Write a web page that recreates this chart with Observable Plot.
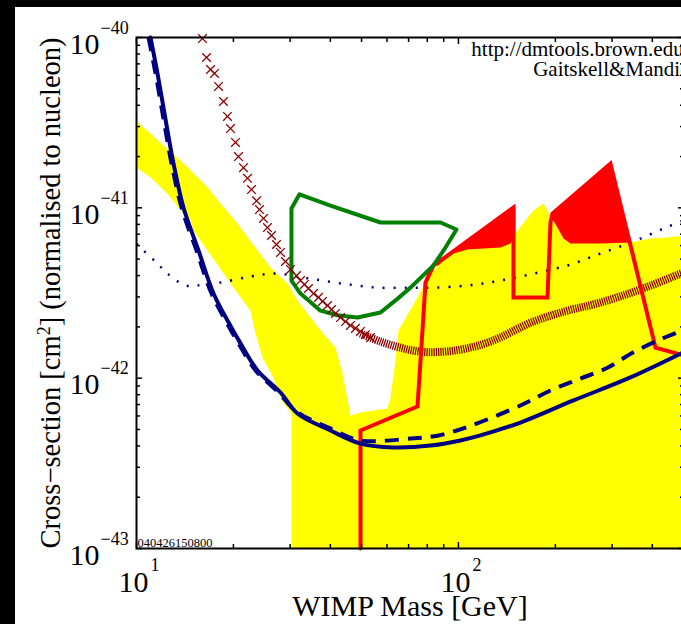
<!DOCTYPE html>
<html><head><meta charset="utf-8">
<script src="https://cdn.jsdelivr.net/npm/d3@7"></script>
<script src="https://cdn.jsdelivr.net/npm/@observablehq/plot@0.6"></script>
<style>
html,body{margin:0;padding:0;background:#000;width:681px;height:624px;overflow:hidden;}
#chart{position:absolute;left:15px;top:7px;width:685px;height:617px;}
#chart svg{background:#fff;display:block;max-width:none !important;width:685px;height:617px;}
</style></head><body><div id="chart"></div>
<script>
// ---- tick values / labels ----
const xMajor = [10, 100];
const xMinor = [20, 30, 40, 50, 60, 70, 80, 90, 200, 300, 400];
const xLabelExp = ["1", "2"];
const yMajor = [1e-43, 1e-42, 1e-41, 1e-40];
const yMinor = [2e-43, 3e-43, 4e-43, 5e-43, 6e-43, 7e-43, 8e-43, 9e-43,
                2e-42, 3e-42, 4e-42, 5e-42, 6e-42, 7e-42, 8e-42, 9e-42,
                2e-41, 3e-41, 4e-41, 5e-41, 6e-41, 7e-41, 8e-41, 9e-41];
const yLabelExp = ["\u221243", "\u221242", "\u221241", "\u221240"];
const xTitle = "WIMP Mass [GeV]";
const yTitle = "Cross\u2212section [cm2] (normalised to nucleon)";
const stamp = "040426150800";
const credit1 = "http://dmtools.brown.edu/";
const credit2 = "Gaitskell&Mandic";

// ---- yellow allowed region (closed outline) ----
const yellowMass = [10.0, 11.05, 12.13, 13.41, 14.72, 16.62, 18.24, 20.59, 23.76, 26.08, 29.44, 31.62, 34.71, 37.28, 41.50, 43.63, 46.20,
  49.62, 60.20,
  61.50, 63.74, 65.13, 74.60, 81.86, 89.85, 96.49, 106.7, 119.6, 135.0, 145.0, 152.5, 171.0, 183.7, 190.4, 203.0, 211.9, 222.8, 276.1, 342.1, 394.8, 445.9, 500,
  500, 30.29,
  30.29, 28.62, 27.41, 26.64, 24.63, 23.43, 22.59, 19.59, 16.62, 15.03, 14.72, 13.70, 12.48, 11.05, 10.0];
const yellowCS = [3.21e-41, 2.73e-41, 2.32e-41, 1.97e-41, 1.66e-41, 1.32e-41, 1.06e-41, 8.09e-42, 5.62e-42, 4.46e-42, 3.59e-42, 2.86e-42, 2.27e-42, 1.91e-42, 1.51e-42, 1.07e-42, 6.04e-43,
  6.29e-43, 6.64e-43,
  7.70e-43, 1.27e-42, 1.91e-42, 2.98e-42, 4.11e-42, 4.91e-42, 5.39e-42, 5.69e-42, 5.77e-42, 5.85e-42, 6.17e-42, 7.36e-42, 9.65e-42, 1.06e-41, 9.39e-42, 7.66e-42, 6.60e-42, 6.17e-42, 6.17e-42, 6.26e-42, 6.60e-42, 6.69e-42, 6.88e-42,
  1e-43, 1e-43,
  6.20e-43, 7.10e-43, 8.46e-43, 1.01e-42, 1.32e-42, 1.83e-42, 2.49e-42, 3.59e-42, 5.62e-42, 7.36e-42, 8.43e-42, 9.65e-42, 1.21e-41, 1.51e-41, 1.72e-41];

// ---- red filled region ----
const redFillMass = [83.65, 148.2, 150.3, 150.3, 195.9, 195.9, 296.5, 347.1, 347.1];
const redFillCS = [4.59e-42, 1.005e-41, 1.005e-41, 4.59e-42, 4.59e-42, 9.26e-42, 1.82e-41, 6.01e-42, 4.59e-42];

// ---- red limit line ----
const redLineMass = [49.62, 49.62, 74.60, 77.31, 78.99, 83.65, 89.85, 148.2, 148.2, 189.0, 193.1, 195.9, 296.5, 409.2, 500];
const redLineCS = [1e-43, 4.93e-43, 6.82e-43, 1.91e-42, 3.64e-42, 4.59e-42, 5.04e-42, 1.005e-41, 2.98e-42, 2.98e-42, 8.20e-42, 9.26e-42, 1.82e-41, 1.51e-42, 1.36e-42];

// ---- green closed contour ----
const greenMass = [30.29, 32.08, 40.05, 57.27, 87.95, 98.58, 91.15, 83.65, 70.94, 63.74, 57.27, 48.57, 42.10, 37.28, 32.31, 30.29];
const greenCS = [9.91e-42, 1.20e-41, 1.03e-41, 8.20e-42, 8.20e-42, 7.46e-42, 5.85e-42, 4.59e-42, 3.40e-42, 2.86e-42, 2.43e-42, 2.27e-42, 2.34e-42, 2.49e-42, 3.14e-42, 3.74e-42];

// ---- blue solid limit ----
const solidMass = [11.05, 11.62, 12.48, 13.03, 13.99, 15.58, 17.35, 19.17, 21.04, 23.76, 28.01, 31.62, 40.05, 49.62, 62.83, 81.86, 101.4, 117.0, 155.8, 227.6, 342.1, 500];
const solidCS = [1e-40, 6.15e-41, 2.84e-41, 1.82e-41, 1.005e-41, 5.62e-42, 3.14e-42, 2.18e-42, 1.60e-42, 1.11e-42, 8.24e-43, 6.20e-43, 4.93e-43, 4.13e-43, 3.92e-43, 4.02e-43, 4.31e-43, 4.61e-43, 5.49e-43, 7.40e-43, 1.01e-42, 1.42e-42];

// ---- blue dashed limit ----
const dashMass = [10.90, 11.46, 12.31, 12.85, 13.80, 15.36, 17.10, 18.90, 20.74, 23.43, 27.61, 31.40, 40.05, 49.62, 70.94, 86.70, 107.4, 155.8, 193.1, 239.3, 290.3, 349.6, 430.2, 500];
const dashCS = [1e-40, 6.15e-41, 2.84e-41, 1.82e-41, 1.005e-41, 5.62e-42, 3.14e-42, 2.18e-42, 1.60e-42, 1.11e-42, 8.24e-43, 6.37e-43, 5.06e-43, 4.31e-43, 4.42e-43, 4.61e-43, 5.20e-43, 6.91e-43, 8.46e-43, 9.95e-43, 1.15e-42, 1.42e-42, 1.71e-42, 1.91e-42];

// ---- blue dotted projection ----
const dotMass = [10.0, 10.51, 11.62, 12.48, 14.20, 15.47, 18.24, 22.59, 27.02, 34.21, 43.63, 56.04, 70.94, 83.65, 106.7, 135.0, 171.0, 218.0, 276.1, 349.6, 433.3, 500];
const dotCS = [6.17e-42, 5.62e-42, 4.71e-42, 4.11e-42, 3.50e-42, 3.50e-42, 3.64e-42, 3.95e-42, 4.11e-42, 3.85e-42, 3.59e-42, 3.40e-42, 3.40e-42, 3.40e-42, 3.50e-42, 3.74e-42, 4.11e-42, 4.59e-42, 5.39e-42, 6.34e-42, 7.56e-42, 8.43e-42];

// ---- dark red x-markers (sparse part) ----
const crossMass = [16.03, 16.50, 16.98, 17.47, 17.98, 18.63, 19.17, 19.59, 20.30, 20.74, 21.49, 22.12, 22.76, 23.60, 24.10, 24.80, 25.51, 26.27, 27.21, 28.01, 29.02, 30.08, 31.40, 32.31, 33.24, 34.21, 35.46, 36.75, 37.82, 39.20, 40.34, 41.50, 43.01, 44.58, 46.20, 47.86, 49.62, 51.42, 53.31];
const crossCS = [9.86e-41, 7.63e-41, 6.49e-41, 6.15e-41, 5.16e-41, 4.21e-41, 3.44e-41, 2.92e-41, 2.42e-41, 2.00e-41, 1.72e-41, 1.49e-41, 1.28e-41, 1.10e-41, 9.77e-42, 8.66e-42, 7.66e-42, 6.88e-42, 6.09e-42, 5.47e-42, 4.84e-42, 4.35e-42, 4.00e-42, 3.74e-42, 3.55e-42, 3.36e-42, 3.14e-42, 2.98e-42, 2.82e-42, 2.67e-42, 2.53e-42, 2.40e-42, 2.27e-42, 2.15e-42, 2.04e-42, 1.96e-42, 1.88e-42, 1.80e-42, 1.73e-42];

// ---- dark red x-markers (dense part, drawn as a hatched band) ----
const bandMass = [49.62, 57.27, 66.07, 76.21, 89.85, 105.1, 125.8, 171.0, 218.0, 276.1, 367.5, 500];
const bandCS = [1.83e-42, 1.64e-42, 1.51e-42, 1.43e-42, 1.43e-42, 1.49e-42, 1.64e-42, 2.15e-42, 2.49e-42, 2.78e-42, 3.32e-42, 4.17e-42];

const zip = (ms, cs) => ms.map((m, i) => ({m, c: cs[i]}));
const navy = "#000080", maroon = "#8b0000";

const chart = Plot.plot({
  width: 685, height: 617,
  marginLeft: 121, marginTop: 30, marginRight: 17, marginBottom: 76,
  x: {type: "log", domain: [10, 500]},
  y: {type: "log", domain: [1e-43, 1e-40]},
  style: {fontFamily: "'Liberation Serif', 'Times New Roman', serif", color: "black", background: "white"},
  marks: [
    Plot.line(zip(redFillMass, redFillCS), {x: "m", y: "c", fill: "#ff0000", stroke: "none", curve: "linear-closed"}),
    Plot.line(zip(yellowMass, yellowCS), {x: "m", y: "c", fill: "#ffff00", stroke: "none", curve: "linear-closed"}),
    Plot.line(zip(dotMass, dotCS), {x: "m", y: "c", stroke: navy, strokeWidth: 2.5, strokeLinecap: "butt", strokeDasharray: "2,9", curve: "catmull-rom"}),
    Plot.line(zip(bandMass, bandCS), {x: "m", y: "c", stroke: maroon, strokeWidth: 8, strokeLinecap: "butt", strokeDasharray: "1.3,1", curve: "catmull-rom"}),
    Plot.line(zip(redLineMass, redLineCS), {x: "m", y: "c", stroke: "#ff0000", strokeWidth: 4, strokeLinejoin: "miter", strokeMiterlimit: 4}),
    Plot.line(zip(greenMass, greenCS), {x: "m", y: "c", stroke: "#008000", strokeWidth: 4, curve: "linear-closed"}),
    Plot.dot(zip(crossMass, crossCS), {x: "m", y: "c", symbol: "times", r: 4, stroke: maroon, strokeWidth: 1.3}),
    Plot.line(zip(dashMass, dashCS), {x: "m", y: "c", stroke: navy, strokeWidth: 4, strokeLinecap: "butt", strokeDasharray: "14,9", curve: "catmull-rom"}),
    Plot.line(zip(solidMass, solidCS), {x: "m", y: "c", stroke: navy, strokeWidth: 4, curve: "catmull-rom"}),
    // inward ticks on all four sides
    Plot.axisX(xMajor, {anchor: "bottom", tickSize: -6, strokeWidth: 1.5, fill: "none", label: null}),
    Plot.axisX(xMinor, {anchor: "bottom", tickSize: -4, strokeWidth: 1.5, fill: "none", label: null}),
    Plot.axisX(xMajor, {anchor: "top", tickSize: -6, strokeWidth: 1.5, fill: "none", label: null}),
    Plot.axisX(xMinor, {anchor: "top", tickSize: -4, strokeWidth: 1.5, fill: "none", label: null}),
    Plot.axisY(yMajor, {anchor: "left", tickSize: -6, strokeWidth: 1.5, fill: "none", label: null}),
    Plot.axisY(yMinor, {anchor: "left", tickSize: -4, strokeWidth: 1.5, fill: "none", label: null}),
    Plot.axisY(yMajor, {anchor: "right", tickSize: -6, strokeWidth: 1.5, fill: "none", label: null}),
    Plot.axisY(yMinor, {anchor: "right", tickSize: -4, strokeWidth: 1.5, fill: "none", label: null}),
    Plot.frame({stroke: "black", strokeWidth: 2}),
    // tick labels 10^n
    Plot.text(yMajor, {y: d => d, text: () => "10", frameAnchor: "left", textAnchor: "end", lineAnchor: "bottom", dx: -37, dy: 16, fontSize: 30}),
    Plot.text(yMajor, {y: d => d, text: (d, i) => yLabelExp[i], frameAnchor: "left", textAnchor: "start", lineAnchor: "bottom", dx: -36, dy: -4, fontSize: 18}),
    Plot.text(xMajor, {x: d => d, text: () => "10", frameAnchor: "bottom", textAnchor: "middle", lineAnchor: "bottom", dx: -3, dy: 43, fontSize: 30}),
    Plot.text(xMajor, {x: d => d, text: (d, i) => xLabelExp[i], frameAnchor: "bottom", textAnchor: "start", lineAnchor: "bottom", dx: 14, dy: 22, fontSize: 18}),
    // titles and annotations
    Plot.text([xTitle], {text: d => d, frameAnchor: "bottom", textAnchor: "middle", lineAnchor: "bottom", dy: 67, fontSize: 30}),
    Plot.text([yTitle], {text: d => d, frameAnchor: "left", textAnchor: "middle", rotate: -90, dx: -86, fontSize: 28.5}),
    Plot.text([stamp], {text: d => d, frameAnchor: "bottom-left", textAnchor: "start", lineAnchor: "bottom", dx: 1, dy: -2, fontSize: 12.5}),
    Plot.text([credit1], {text: d => d, frameAnchor: "top-right", textAnchor: "end", lineAnchor: "bottom", dx: 6, dy: 18, fontSize: 21}),
    Plot.text([credit2], {text: d => d, frameAnchor: "top-right", textAnchor: "end", lineAnchor: "bottom", dx: 6, dy: 38, fontSize: 21})
  ]
});
document.getElementById("chart").appendChild(chart);

// superscript the "2" of cm2 in the y title
for (const t of chart.querySelectorAll("text")) {
  if (t.textContent === yTitle) {
    const ns = "http://www.w3.org/2000/svg";
    t.textContent = "";
    const a = document.createElementNS(ns, "tspan"); a.textContent = "Cross\u2212section [cm";
    const b = document.createElementNS(ns, "tspan"); b.textContent = "2"; b.setAttribute("dy", "-10"); b.setAttribute("font-size", "18");
    const c = document.createElementNS(ns, "tspan"); c.textContent = "] (normalised to nucleon)"; c.setAttribute("dy", "10");
    t.append(a, b, c);
  }
}
</script></body></html>
